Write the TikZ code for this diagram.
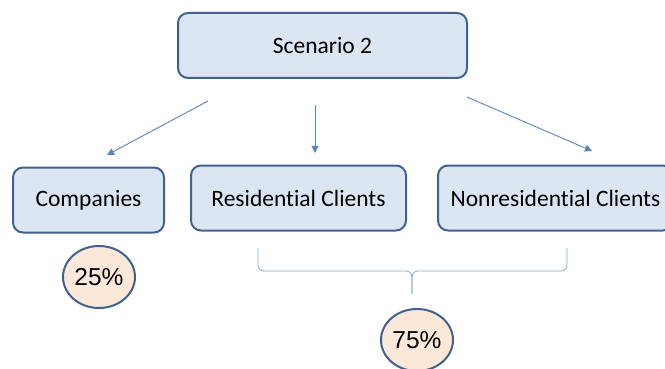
\documentclass[tikz,border=0pt]{standalone}
\usepackage{fontspec}
\setmainfont{Carlito}[Ligatures=NoCommon]
\newfontfamily\pctfont{Liberation Sans}
\usetikzlibrary{arrows.meta}
\definecolor{boxfill}{HTML}{DCE6F2}
\definecolor{boxline}{HTML}{41628F}
\definecolor{pctfill}{HTML}{FCE8D9}
\definecolor{arrowcol}{HTML}{5A85BC}
\definecolor{bracecol}{HTML}{8AA6CB}
\tikzset{
    group/.style={draw=boxline,fill=boxfill,line width=2pt,rounded corners=10pt,
        font=\fontsize{23.5}{26}\selectfont,minimum height=65pt},
    share/.style={ellipse,draw=boxline,fill=pctfill,line width=2pt,
        minimum width=72pt,minimum height=62pt,inner sep=0pt,
        font=\pctfont\fontsize{24.5}{28}\selectfont},
    link/.style={arrowcol,line width=0.9pt,-{Triangle[width=7pt,length=7pt]}}
}
\usetikzlibrary{shapes.geometric}
\begin{document}
\begin{tikzpicture}[x=1pt,y=-1pt]
    \useasboundingbox (0,0) rectangle (665,369);
    \clip (0,0) rectangle (665,369);
    % boxes
    \node[group,minimum width=289pt] (scen) at (322.5,45.5) {Scenario 2};
    \node[group,minimum width=151pt] (comp) at (88.5,200) {Companies};
    \node[group,minimum width=215pt] (resi) at (298.5,198) {Residential Clients};
    \node[group,minimum width=235pt] (nonr) at (555.5,198) {Nonresidential Clients};
    % shares
    \node[share] (p25) at (99,277) {25\%};
    \node[share] (p75) at (417,340) {75\%};
    % arrows
    \coordinate (a1) at (208,101);
    \coordinate (b1) at (107,155);
    \coordinate (a2) at (315,105);
    \coordinate (b2) at (315,153);
    \coordinate (a3) at (467,97);
    \coordinate (b3) at (592,151);
    \draw[link] (a1) -- (b1);
    \draw[link] (a2) -- (b2);
    \draw[link] (a3) -- (b3);
    % brace
    \coordinate (bl) at (258,248);
    \coordinate (br) at (567,248);
    \coordinate (bt) at (412,294);
    \draw[bracecol,line width=0.8pt,rounded corners=6pt] (bl) |- (bt |- 0,271) -- (bt);
    \draw[bracecol,line width=0.8pt,rounded corners=6pt] (br) |- (bt |- 0,271) -- (bt);
\end{tikzpicture}
\end{document}
